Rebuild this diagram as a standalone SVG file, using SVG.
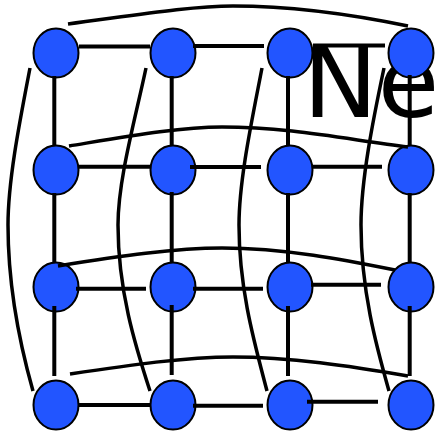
<svg xmlns="http://www.w3.org/2000/svg" width="438" height="435" viewBox="0 0 438 435">
<style>
.node{fill:#2255ff;stroke:#000;stroke-width:2}
.edge{stroke:#000;stroke-width:4;fill:none}
.wrap{stroke:#000;stroke-width:3.5;fill:none}
.label{font-family:"DejaVu Sans",sans-serif;font-size:100px;fill:#000}
</style>
<rect width="438" height="435" fill="#fff"/>
<text class="label" x="303" y="117">Ne</text>
<g id="nodes">
<g id="n11"><ellipse class="node" cx="56" cy="53" rx="22.5" ry="24.5"/></g>
<g id="n12"><ellipse class="node" cx="173" cy="53" rx="22.5" ry="24.5"/></g>
<g id="n13"><ellipse class="node" cx="290" cy="53" rx="22.5" ry="24.5"/></g>
<g id="n14"><ellipse class="node" cx="411" cy="53" rx="22.5" ry="24.5"/></g>
<g id="n21"><ellipse class="node" cx="56" cy="170" rx="22.5" ry="24.5"/></g>
<g id="n22"><ellipse class="node" cx="173" cy="170" rx="22.5" ry="24.5"/></g>
<g id="n23"><ellipse class="node" cx="290" cy="170" rx="22.5" ry="24.5"/></g>
<g id="n24"><ellipse class="node" cx="411" cy="170" rx="22.5" ry="24.5"/></g>
<g id="n31"><ellipse class="node" cx="56" cy="287" rx="22.5" ry="24.5"/></g>
<g id="n32"><ellipse class="node" cx="173" cy="287" rx="22.5" ry="24.5"/></g>
<g id="n33"><ellipse class="node" cx="290" cy="287" rx="22.5" ry="24.5"/></g>
<g id="n34"><ellipse class="node" cx="411" cy="287" rx="22.5" ry="24.5"/></g>
<g id="n41"><ellipse class="node" cx="56" cy="405" rx="22.5" ry="24.5"/></g>
<g id="n42"><ellipse class="node" cx="173" cy="405" rx="22.5" ry="24.5"/></g>
<g id="n43"><ellipse class="node" cx="290" cy="405" rx="22.5" ry="24.5"/></g>
<g id="n44"><ellipse class="node" cx="411" cy="405" rx="22.5" ry="24.5"/></g>
</g>
<g id="connectors">
<!-- horizontal -->
<line class="edge" x1="79" y1="46.5" x2="150" y2="46.5"/>
<line class="edge" x1="193" y1="46" x2="264" y2="46"/>
<line class="edge" x1="313" y1="45.5" x2="385" y2="45.5"/>
<line class="edge" x1="79" y1="166.7" x2="150" y2="166.7"/>
<line class="edge" x1="190" y1="167" x2="261" y2="167"/>
<line class="edge" x1="313" y1="166.7" x2="382" y2="166.7"/>
<line class="edge" x1="76" y1="288.7" x2="146" y2="288.7"/>
<line class="edge" x1="193" y1="288.7" x2="263" y2="288.7"/>
<line class="edge" x1="311" y1="284.7" x2="381" y2="284.7"/>
<line class="edge" x1="79" y1="405" x2="150" y2="405"/>
<line class="edge" x1="193" y1="405.7" x2="263" y2="405.7"/>
<line class="edge" x1="307" y1="401.7" x2="378" y2="401.7"/>
<!-- vertical -->
<line class="edge" x1="54.3" y1="76" x2="54.3" y2="146"/>
<line class="edge" x1="54.3" y1="193" x2="54.3" y2="262"/>
<line class="edge" x1="54.3" y1="306" x2="54.3" y2="376"/>
<line class="edge" x1="171.7" y1="76" x2="171.7" y2="146"/>
<line class="edge" x1="171.7" y1="192" x2="171.7" y2="262"/>
<line class="edge" x1="171.7" y1="305" x2="171.7" y2="375"/>
<line class="edge" x1="288" y1="76" x2="288" y2="146"/>
<line class="edge" x1="288" y1="193" x2="288" y2="262"/>
<line class="edge" x1="288" y1="306" x2="288" y2="376"/>
<line class="edge" x1="409.7" y1="75" x2="409.7" y2="146"/>
<line class="edge" x1="409.7" y1="193" x2="409.7" y2="262"/>
<line class="edge" x1="409.7" y1="306" x2="409.7" y2="376"/>
<!-- row wraps -->
<path class="wrap" d="M68,24 C130,16 190,6 233,6 C290,6 350,14 408,26"/>
<path class="wrap" d="M69,146 C130,136 180,127 222,127 C290,127 350,140 408,147"/>
<path class="wrap" d="M58,266 C120,256 175,248 222,248 C285,248 345,260 395,270"/>
<path class="wrap" d="M70,374 C130,365 185,357 233,357 C290,357 350,366 408,376"/>
<!-- column wraps -->
<path class="wrap" d="M30,68 C20,120 8,180 8,225 C8,290 20,345 33,391"/>
<path class="wrap" d="M146,68 C135,120 118,180 118,225 C118,290 135,345 150,391"/>
<path class="wrap" d="M262,68 C252,120 239,180 239,225 C239,290 255,345 267,391"/>
<path class="wrap" d="M384,68 C373,120 361,180 361,225 C361,290 376,345 389,391"/>
</g>
</svg>
